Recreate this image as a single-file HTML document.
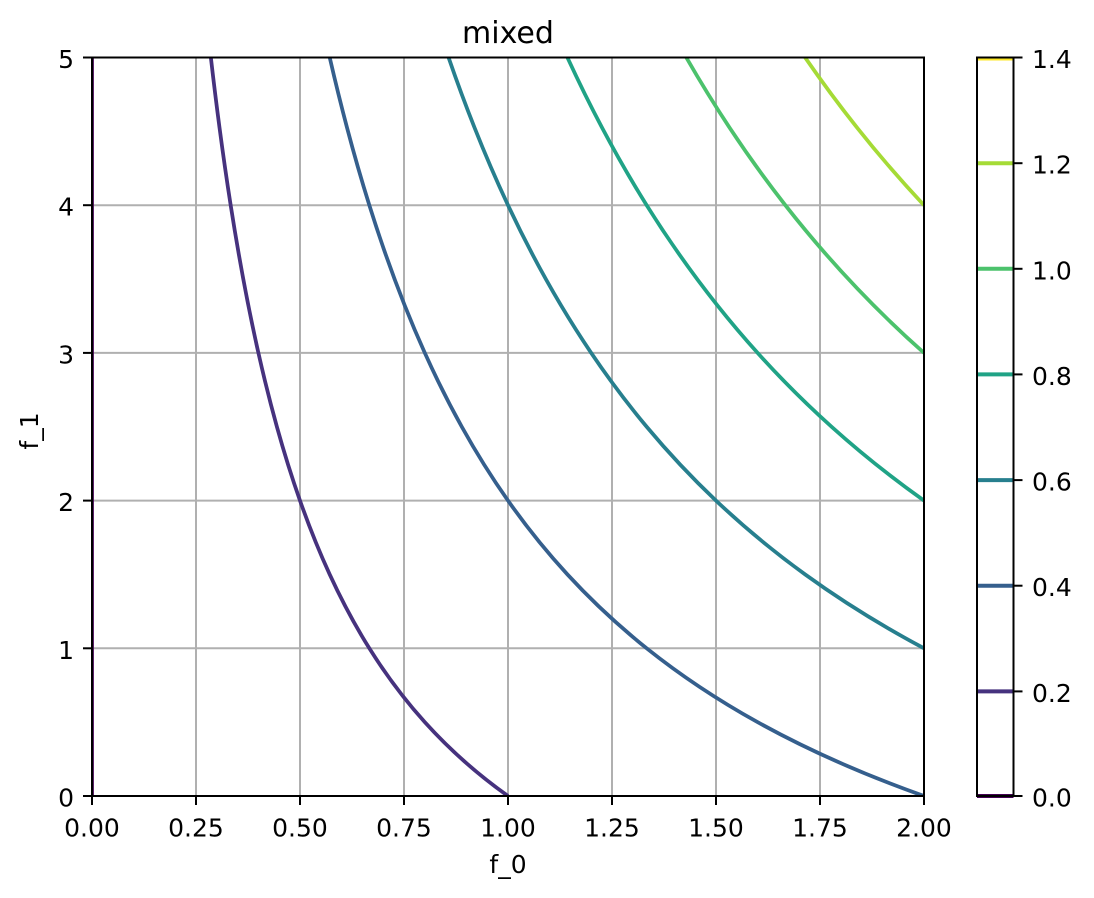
<!DOCTYPE html>
<html><head><meta charset="utf-8"><style>
html,body{margin:0;padding:0;background:#fff;}
svg{display:block;}
text{font-family:"DejaVu Sans","Liberation Sans",sans-serif;fill:#000;}
</style></head><body>
<svg width="1094" height="898" viewBox="0 0 1094 898" xmlns="http://www.w3.org/2000/svg">
<defs><clipPath id="pc"><rect x="92" y="57.5" width="832" height="738.5"/></clipPath></defs>
<rect width="1094" height="898" fill="#fff"/>
<!-- grid -->
<g stroke="#b0b0b0" stroke-width="2">
<line x1="196" y1="57.5" x2="196" y2="796"/><line x1="300" y1="57.5" x2="300" y2="796"/><line x1="404" y1="57.5" x2="404" y2="796"/><line x1="508" y1="57.5" x2="508" y2="796"/><line x1="612" y1="57.5" x2="612" y2="796"/><line x1="716" y1="57.5" x2="716" y2="796"/><line x1="820" y1="57.5" x2="820" y2="796"/>
<line x1="92" y1="648.3" x2="924" y2="648.3"/><line x1="92" y1="500.6" x2="924" y2="500.6"/><line x1="92" y1="352.9" x2="924" y2="352.9"/><line x1="92" y1="205.2" x2="924" y2="205.2"/>
</g>
<!-- contours -->
<g clip-path="url(#pc)" fill="none" stroke-width="3.75">
<line x1="92" y1="57.5" x2="92" y2="796" stroke="#440154"/>
<path stroke="#46327e" d="M508,796 Q461.78,763.18 424.8,722.15 Q394.55,688.58 369.33,648.3 Q348,614.21 329.71,574.45 Q313.87,539.99 300,500.6 Q287.76,465.85 276.89,426.75 Q267.16,391.77 258.4,352.9 Q243.27,285.76 230.67,205.2 Q220,137.03 210.86,57.5"/>
<path stroke="#355f8d" d="M924,796 Q831.56,763.18 757.6,722.15 Q697.09,688.58 646.67,648.3 Q604,614.21 567.43,574.45 Q535.73,539.99 508,500.6 Q483.53,465.85 461.78,426.75 Q442.32,391.77 424.8,352.9 Q394.55,285.76 369.33,205.2 Q348,137.03 329.71,57.5"/>
<path stroke="#277f8e" d="M924,648.3 Q860,614.21 805.14,574.45 Q757.6,539.99 716,500.6 Q679.29,465.85 646.67,426.75 Q617.47,391.77 591.2,352.9 Q545.82,285.76 508,205.2 Q476,137.03 448.57,57.5"/>
<path stroke="#20a386" d="M924,500.6 Q875.06,465.85 831.56,426.75 Q792.63,391.77 757.6,352.9 Q697.09,285.76 646.67,205.2 Q604,137.03 567.43,57.5"/>
<path stroke="#4cc26c" d="M924,352.9 Q848.36,285.76 785.33,205.2 Q732,137.03 686.29,57.5"/>
<path stroke="#a5db36" d="M924,205.2 Q860,137.03 805.14,57.5"/>
</g>
<!-- spines -->
<rect x="92" y="57.5" width="832" height="738.5" fill="none" stroke="#000" stroke-width="2"/>
<!-- x ticks -->
<g stroke="#000" stroke-width="2">
<line x1="92" y1="796" x2="92" y2="805"/><line x1="196" y1="796" x2="196" y2="805"/><line x1="300" y1="796" x2="300" y2="805"/><line x1="404" y1="796" x2="404" y2="805"/><line x1="508" y1="796" x2="508" y2="805"/><line x1="612" y1="796" x2="612" y2="805"/><line x1="716" y1="796" x2="716" y2="805"/><line x1="820" y1="796" x2="820" y2="805"/><line x1="924" y1="796" x2="924" y2="805"/>
<line x1="83" y1="796" x2="92" y2="796"/><line x1="83" y1="648.3" x2="92" y2="648.3"/><line x1="83" y1="500.6" x2="92" y2="500.6"/><line x1="83" y1="352.9" x2="92" y2="352.9"/><line x1="83" y1="205.2" x2="92" y2="205.2"/><line x1="83" y1="57.5" x2="92" y2="57.5"/>
</g>
<g font-size="25" text-anchor="middle">
<text x="92" y="836.5">0.00</text><text x="196" y="836.5">0.25</text><text x="300" y="836.5">0.50</text><text x="404" y="836.5">0.75</text><text x="508" y="836.5">1.00</text><text x="612" y="836.5">1.25</text><text x="716" y="836.5">1.50</text><text x="820" y="836.5">1.75</text><text x="924" y="836.5">2.00</text>
</g>
<g font-size="25" text-anchor="end">
<text x="74" y="806.5">0</text><text x="74" y="658.8">1</text><text x="74" y="511.1">2</text><text x="74" y="363.4">3</text><text x="74" y="215.7">4</text><text x="74" y="68">5</text>
</g>
<text x="508" y="43" font-size="30" text-anchor="middle">mixed</text>
<text x="508" y="873" font-size="25" text-anchor="middle">f_0</text>
<text transform="translate(38,431) rotate(-90)" font-size="25" text-anchor="middle">f_1</text>
<!-- colorbar -->
<g stroke-width="4">
<line x1="977" y1="796" x2="1013.5" y2="796" stroke="#440154"/>
<line x1="977" y1="691.4" x2="1013.5" y2="691.4" stroke="#46327e"/>
<line x1="977" y1="585.7" x2="1013.5" y2="585.7" stroke="#355f8d"/>
<line x1="977" y1="480.1" x2="1013.5" y2="480.1" stroke="#277f8e"/>
<line x1="977" y1="374.4" x2="1013.5" y2="374.4" stroke="#20a386"/>
<line x1="977" y1="268.8" x2="1013.5" y2="268.8" stroke="#4cc26c"/>
<line x1="977" y1="163.2" x2="1013.5" y2="163.2" stroke="#a5db36"/>
<line x1="977" y1="58.5" x2="1013.5" y2="58.5" stroke="#fde725"/>
</g>
<rect x="977" y="57.5" width="36.5" height="738.5" fill="none" stroke="#000" stroke-width="2"/>
<g stroke="#000" stroke-width="2">
<line x1="1013.5" y1="796" x2="1022.5" y2="796"/><line x1="1013.5" y1="691.4" x2="1022.5" y2="691.4"/><line x1="1013.5" y1="585.7" x2="1022.5" y2="585.7"/><line x1="1013.5" y1="480.1" x2="1022.5" y2="480.1"/><line x1="1013.5" y1="374.4" x2="1022.5" y2="374.4"/><line x1="1013.5" y1="268.8" x2="1022.5" y2="268.8"/><line x1="1013.5" y1="163.2" x2="1022.5" y2="163.2"/><line x1="1013.5" y1="57.5" x2="1022.5" y2="57.5"/>
</g>
<g font-size="25">
<text x="1032" y="806.5">0.0</text><text x="1032" y="701.9">0.2</text><text x="1032" y="596.2">0.4</text><text x="1032" y="490.6">0.6</text><text x="1032" y="384.9">0.8</text><text x="1032" y="279.3">1.0</text><text x="1032" y="173.7">1.2</text><text x="1032" y="68">1.4</text>
</g>
</svg>
</body></html>
